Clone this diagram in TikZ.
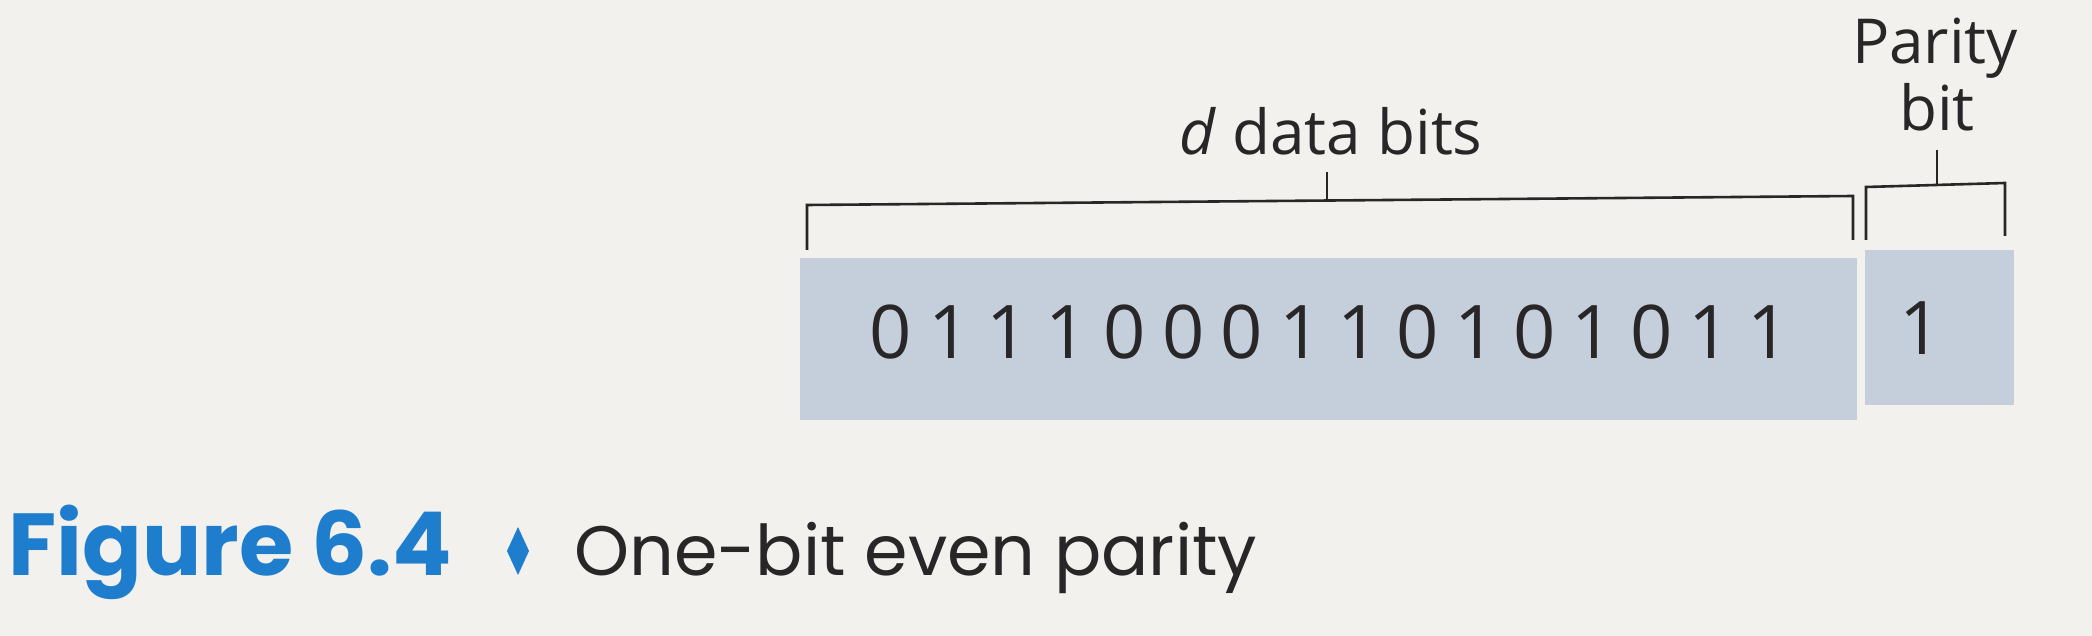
\documentclass[tikz,border=0pt]{standalone}
\usepackage{fontspec}
\setmainfont{Open Sans}
\newfontfamily\capfont{Poppins}
\definecolor{paper}{RGB}{242,241,237}
\definecolor{boxfill}{RGB}{197,207,220}
\definecolor{ink}{RGB}{40,38,38}
\definecolor{capblue}{RGB}{30,125,205}
\tikzset{
  bitbox/.style={fill=boxfill, draw=none},
  brk/.style={draw=ink, line width=2.6pt},
  lbl/.style={text=ink, font=\fontsize{62}{70}\selectfont, inner sep=0pt},
  digit/.style={text=ink, font=\fontsize{74}{80}\selectfont, inner sep=0pt, anchor=base},
}
\begin{document}
\begin{tikzpicture}[x=1pt,y=-1pt]
\fill[paper] (0,0) rectangle (2092,636);
\useasboundingbox (0,0) rectangle (2092,636);
% boxes
\node[bitbox, minimum width=1057pt, minimum height=162pt, inner sep=0pt] (data) at (1328.5,339) {};
\node[bitbox, minimum width=149pt, minimum height=155pt, inner sep=0pt] (par) at (1939.5,327.5) {};
% digits
\foreach \b [count=\i from 0] in {0,1,1,1,0,0,0,1,1,0,1,0,1,0,1,1}{
  \node[digit] (d\i) at ({891+\i*58.5},358) {\b};
}
\node[digit] (p0) at (1921,354) {1};
% data bracket
\coordinate (dl) at (807,250);
\coordinate (dr) at (1853,240);
\coordinate (dm) at (1327,200);
\coordinate (dt) at (1327,172);
\draw[brk] (dl) -- (807,205) -- (1853,196) -- (dr);
\draw[brk] (dm) -- (dt);
\node[lbl, anchor=base] (dlabel) at (1331,155) {\textit{d} data bits};
% parity bracket
\coordinate (pl) at (1866,240);
\coordinate (pr) at (2005,236);
\coordinate (pm) at (1937,185);
\coordinate (pt) at (1937,150);
\draw[brk] (pl) -- (1866,187) -- (2005,183) -- (pr);
\draw[brk] (pm) -- (pt);
\node[lbl, anchor=base] (plabel1) at (1935,64) {Parity};
\node[lbl, anchor=base] (plabel2) at (1937,131) {bit};
% caption
\node[anchor=base west, inner sep=0pt, text=capblue, font=\capfont\bfseries\fontsize{88}{94}\selectfont] (fig) at (8,575) {Figure 6.4};
\node[inner sep=0pt, minimum size=0pt] (dia) at (518,551) {};
\fill[capblue] ([yshift=-24pt]dia.center) -- ([xshift=11pt]dia.center) -- ([yshift=24pt]dia.center) -- ([xshift=-11pt]dia.center) -- cycle;
\node[anchor=base west, inner sep=0pt, text=ink, font=\capfont\fontsize{70}{80}\selectfont] (cap) at (574,575) {One-bit even parity};
\end{tikzpicture}
\end{document}
